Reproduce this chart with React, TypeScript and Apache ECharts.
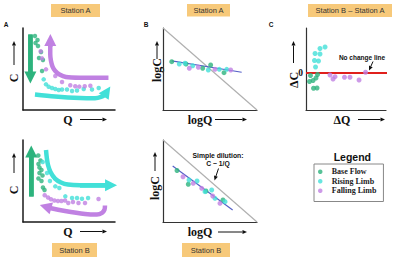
import React, { useEffect, useRef } from "react";
import * as echarts from "echarts";

const GREEN = "#2db37d";
const CYAN = "#42e0d8";
const PURPLE = "#c081e2";
const LEGEND_NAMES = ["Base Flow", "Rising Limb", "Falling Limb"];

// Panel A, Station A (C vs Q, schematic units 0-10)
const aTopBase = [[1.3, 9.02], [1.58, 8.54], [1.36, 8.17], [1.63, 7.8], [1.96, 7.07], [1.74, 6.34], [2.17, 6.1], [2.07, 4.76]];
const aTopFalling = [[1.92, 7.16], [2.07, 6.3], [2.5, 4.96], [3.51, 4.15], [4.24, 3.41], [5.14, 3.01], [5.68, 2.9], [6.12, 2.85], [6.71, 2.9], [7.32, 2.95]];
const aTopRising = [[2.25, 3.74], [2.5, 3.13], [2.79, 2.84], [3.15, 2.68], [3.51, 2.56], [3.88, 2.44], [4.24, 2.5], [4.78, 2.5], [5.33, 2.32], [5.87, 2.38], [6.6, 2.56], [7.5, 2.5], [8.23, 2.68]];
const aTopBaseArrow = [[0.8, 9.2], [0.8, 3.97]];
const aTopFallingArrow = [[9.29, 3.94], [6.2, 3.94], [4.67, 4.02], [3.97, 4.33], [3.51, 4.76], [3.21, 5.3], [3.04, 5.98], [2.96, 6.83], [2.96, 7.68], [2.97, 8.54]];
const aTopRisingArrow = [[1.3, 1.89], [3.48, 1.65], [6.2, 1.46], [7.83, 1.43], [8.48, 1.59], [8.91, 1.89], [9.13, 2.26]];

// Panel A, Station B
const aBotBase = [[1.66, 8.11], [1.9, 7.5], [1.68, 7.07], [1.79, 6.65], [2.01, 6.34], [1.79, 5.98], [2.12, 5.67], [1.68, 5.3], [2.01, 5.0], [2.17, 4.21], [2.34, 3.9]];
const aBotRising = [[2.14, 7.32], [2.61, 5.98], [2.93, 5.0], [3.51, 4.35], [3.95, 4.15], [4.6, 3.13], [5.33, 2.93], [5.87, 2.93], [6.41, 2.84], [7.07, 2.93]];
const aBotFalling = [[2.36, 3.26], [2.72, 2.99], [3.04, 2.77], [3.42, 2.62], [3.8, 2.56], [4.18, 2.56], [4.57, 2.62], [4.92, 2.32], [5.43, 2.44], [6.03, 2.32], [6.74, 2.32], [8.21, 2.8]];
const aBotBaseArrow = [[0.9, 3.1], [0.9, 8.6]];
const aBotRisingArrow = [[2.5, 8.78], [2.59, 7.8], [2.72, 6.95], [2.99, 6.1], [3.48, 5.3], [4.13, 4.82], [4.89, 4.57], [6.2, 4.49], [9.57, 4.49]];
const aBotFallingArrow = [[8.91, 2.01], [8.86, 1.52], [8.59, 1.12], [8.04, 0.91], [6.74, 0.98], [4.57, 1.34], [2.93, 1.71], [2.45, 1.87]];

// Panel B (logC vs logQ)
const dilution = [[0, 10], [10, 0]];
const bTopBase = [[0.93, 5.89], [2.45, 5.61], [4.22, 5.09], [5.07, 5.49], [6.49, 4.55]];
const bTopRising = [[1.73, 5.61], [2.34, 5.7], [3.16, 5.4], [4.82, 4.88], [5.99, 4.96], [6.78, 4.96]];
const bTopFalling = [[2.8, 5.09], [3.76, 5.21], [5.53, 4.96], [7.2, 4.88]];
const bTopFit = [[0.93, 5.98], [8.37, 4.6]];
const bBotBase = [[1.49, 6.28], [2.69, 4.6], [4.57, 3.78], [6.38, 2.68]];
const bBotRising = [[2.77, 5.12], [3.62, 5.0], [4.47, 3.7], [5.18, 3.9], [5.53, 2.89], [6.6, 2.48]];
const bBotFalling = [[2.13, 5.52], [3.22, 4.72], [4.12, 4.11], [5.29, 3.17], [6.06, 2.28]];
const bBotFit = [[1.03, 6.83], [7.41, 1.46]];

// Panel C (ΔC vs ΔQ)
const cRising = [[2.38, 3.18], [1.75, 3.0], [1.13, 2.39], [1.75, 2.33], [1.06, 1.54], [1.56, 1.48], [1.19, 0.74]];
const cBase = [[0.56, -0.29], [1.44, -0.17], [1.25, -0.6], [0.88, -0.9], [0.44, -1.02], [0.94, -1.85], [1.38, -1.82]];
const cFalling = [[3.0, -0.23], [3.63, -0.44], [3.38, -0.72], [4.81, -0.51], [5.5, -0.51], [6.63, -0.84], [7.44, 0.1]];
const noChange = [[0, 0], [10.9, 0]];
const cYTicks = [0];

const SERIF = "'Liberation Serif', 'DejaVu Serif', serif";
const SANS = "'Liberation Sans', Arial, sans-serif";

function axis(gi: number, color: string, width: number, min = 0, max = 10, extra: any = {}) {
  return {
    type: "value",
    gridIndex: gi,
    min,
    max,
    axisLine: { show: true, onZero: false, lineStyle: { color, width } },
    axisTick: { show: false },
    axisLabel: { show: false },
    splitLine: { show: false },
    ...extra,
  };
}

const scatter = (name: string, data: number[][], gi: number, color: string, size: number) => ({
  type: "scatter",
  name,
  data,
  xAxisIndex: gi,
  yAxisIndex: gi,
  symbolSize: size,
  itemStyle: { color },
  z: 5,
  silent: true,
});

const body = (data: number[][], gi: number, color: string, smooth: number) => ({
  type: "line",
  data,
  xAxisIndex: gi,
  yAxisIndex: gi,
  smooth,
  showSymbol: false,
  symbol: "none",
  lineStyle: { color, width: 4.5 },
  z: 2,
  silent: true,
  clip: false,
});

const head = (data: number[][], gi: number, color: string) => ({
  type: "lines",
  coordinateSystem: "cartesian2d",
  xAxisIndex: gi,
  yAxisIndex: gi,
  symbol: ["none", "triangle"],
  symbolSize: 12,
  lineStyle: { color, width: 4.5, opacity: 1, curveness: 0 },
  data: [{ coords: [data[data.length - 2], data[data.length - 1]] }],
  z: 3,
  silent: true,
});

const straight = (data: number[][], gi: number, color: string, width: number) => ({
  type: "line",
  data,
  xAxisIndex: gi,
  yAxisIndex: gi,
  showSymbol: false,
  symbol: "none",
  lineStyle: { color, width },
  z: 1,
  silent: true,
  clip: false,
});

function text(x: number, y: number, t: string, font: string, rotation = 0, fill = "#111") {
  return {
    type: "text",
    x,
    y,
    rotation,
    silent: true,
    style: {
      text: t,
      x: 0,
      y: 0,
      font,
      fill,
      align: "center",
      verticalAlign: "middle",
      textAlign: "center",
      textVerticalAlign: "middle",
    },
  };
}

function smallArrow(x1: number, y1: number, x2: number, y2: number, color = "#111", len = 4.5) {
  const ang = Math.atan2(y2 - y1, x2 - x1);
  const bx = x2 - len * Math.cos(ang);
  const by = y2 - len * Math.sin(ang);
  const px = -Math.sin(ang) * len * 0.45;
  const py = Math.cos(ang) * len * 0.45;
  return [
    { type: "line", silent: true, shape: { x1, y1, x2: bx, y2: by }, style: { stroke: color, lineWidth: 1 } },
    { type: "polygon", silent: true, shape: { points: [[x2, y2], [bx + px, by + py], [bx - px, by - py]] }, style: { fill: color } },
  ];
}

function box(x: number, y: number, w: number, h: number, t: string) {
  return [
    { type: "rect", silent: true, shape: { x, y, width: w, height: h }, style: { fill: "#f7c97a" } },
    text(x + w / 2, y + h / 2 + 0.3, t, `7.5px ${SANS}`, 0, "#333"),
  ];
}

export default function App() {
  const ref = useRef<HTMLDivElement>(null);
  useEffect(() => {
    if (!ref.current) return;
    const chart = echarts.init(ref.current, undefined, { renderer: "svg" });
    const AX = "#1a1a1a";
    const AXB = "#333";
    const rot = Math.PI / 2;
    const axisLab = `bold 12px ${SERIF}`;
    const graphic: any[] = [
      ...box(51, 4, 49, 13, "Station A"),
      ...box(187, 4, 43, 12.5, "Station A"),
      ...box(308, 4, 84, 13, "Station B \u2013 Station A"),
      ...box(52, 243, 45, 14, "Station B"),
      ...box(182, 243, 48, 14, "Station B"),
      text(6, 24, "A", `bold 6.5px ${SANS}`),
      text(146, 24, "B", `bold 6.5px ${SANS}`),
      text(271, 24, "C", `bold 6.5px ${SANS}`),
      text(14, 78, "C", axisLab, rot),
      ...smallArrow(14, 65, 14, 41),
      text(68, 119.5, "Q", axisLab),
      ...smallArrow(80, 119.5, 107, 119.5),
      text(14, 190, "C", axisLab, rot),
      ...smallArrow(14, 173, 14, 153),
      text(68, 231.5, "Q", axisLab),
      ...smallArrow(80, 231.5, 107, 231.5),
      text(157, 70, "logC", axisLab, rot),
      ...smallArrow(157, 59, 157, 41),
      text(200, 119.5, "logQ", axisLab),
      ...smallArrow(215, 119.5, 247, 119.5),
      text(155, 188, "logC", axisLab, rot),
      ...smallArrow(155, 171, 155, 152),
      text(200, 232, "logQ", axisLab),
      ...smallArrow(218, 232, 247, 232),
      text(293.5, 80, "\u0394C", axisLab, rot),
      ...smallArrow(293.5, 63, 293.5, 41),
      text(342, 119.5, "\u0394Q", axisLab),
      ...smallArrow(358, 119.5, 385, 119.5),
      text(218, 155.7, "Simple dilution:", `bold 6.8px ${SANS}`),
      text(218, 163.5, "C ~ 1/Q", `bold 6.8px ${SANS}`),
      ...smallArrow(218.5, 168.5, 214.5, 180.5),
      text(362, 57.7, "No change line", `bold 6.5px ${SANS}`),
      ...smallArrow(373, 61.5, 369, 70.5),
      text(352.3, 156.7, "Legend", `bold 10.5px ${SANS}`),
    ];

    const option: any = {
      animation: false,
      backgroundColor: "#ffffff",
      grid: [
        { left: 23, top: 28, width: 92, height: 82 },
        { left: 163, top: 28, width: 94, height: 82 },
        { left: 306, top: 28, width: 80, height: 82 },
        { left: 23, top: 140, width: 92, height: 82 },
        { left: 163, top: 140, width: 94, height: 82 },
      ],
      xAxis: [
        axis(0, AX, 1.5),
        axis(1, AXB, 1.2),
        axis(2, AXB, 1.2),
        axis(3, AX, 1.5),
        axis(4, AXB, 1.2),
      ],
      yAxis: [
        axis(0, AX, 1.5),
        axis(1, AXB, 1.2),
        axis(2, AXB, 1.2, -4.5, 5.5, {
          axisLabel: {
            show: true,
            customValues: cYTicks,
            fontSize: 9.5,
            fontFamily: SERIF,
            fontWeight: "bold",
            color: "#111",
            margin: 3,
          },
        }),
        axis(3, AX, 1.5),
        axis(4, AXB, 1.2),
      ],
      legend: {
        data: LEGEND_NAMES,
        orient: "vertical",
        left: 314,
        top: 164,
        padding: [3, 7, 6, 4],
        borderColor: "#888",
        borderWidth: 1,
        icon: "circle",
        itemWidth: 13,
        itemHeight: 4.5,
        itemGap: 0,
        selectedMode: false,
        textStyle: { fontFamily: SERIF, fontWeight: "bold", fontSize: 8, color: "#222", lineHeight: 9.5 },
      },
      graphic,
      series: [
        // Panel A top arrows
        body(aTopBaseArrow, 0, GREEN, 0),
        head(aTopBaseArrow, 0, GREEN),
        body(aTopFallingArrow, 0, PURPLE, 0.3),
        head(aTopFallingArrow, 0, PURPLE),
        body(aTopRisingArrow, 0, CYAN, 0.3),
        head(aTopRisingArrow, 0, CYAN),
        scatter("Base Flow", aTopBase, 0, GREEN, 4.5),
        scatter("Rising Limb", aTopRising, 0, CYAN, 4.5),
        scatter("Falling Limb", aTopFalling, 0, PURPLE, 4.5),
        // Panel B top
        straight(dilution, 1, "#b0b0b0", 1.2),
        straight(bTopFit, 1, "#5560c8", 1.2),
        scatter("Base Flow", bTopBase, 1, GREEN, 5),
        scatter("Rising Limb", bTopRising, 1, CYAN, 5),
        scatter("Falling Limb", bTopFalling, 1, PURPLE, 5),
        // Panel C
        straight(noChange, 2, "#e0201c", 2),
        scatter("Base Flow", cBase, 2, GREEN, 5),
        scatter("Rising Limb", cRising, 2, CYAN, 5),
        scatter("Falling Limb", cFalling, 2, PURPLE, 5),
        // Panel A bottom
        body(aBotBaseArrow, 3, GREEN, 0),
        head(aBotBaseArrow, 3, GREEN),
        body(aBotRisingArrow, 3, CYAN, 0.3),
        head(aBotRisingArrow, 3, CYAN),
        body(aBotFallingArrow, 3, PURPLE, 0.3),
        head(aBotFallingArrow, 3, PURPLE),
        scatter("Base Flow", aBotBase, 3, GREEN, 4.5),
        scatter("Rising Limb", aBotRising, 3, CYAN, 4.5),
        scatter("Falling Limb", aBotFalling, 3, PURPLE, 4.5),
        // Panel B bottom
        straight(dilution, 4, "#b0b0b0", 1.2),
        straight(bBotFit, 4, "#5560c8", 1.2),
        scatter("Base Flow", bBotBase, 4, GREEN, 5),
        scatter("Rising Limb", bBotRising, 4, CYAN, 5),
        scatter("Falling Limb", bBotFalling, 4, PURPLE, 5),
      ],
    };
    chart.setOption(option);
    return () => chart.dispose();
  }, []);
  return <div ref={ref} style={{ position: "fixed", left: 0, top: 0, width: 400, height: 260 }} />;
}
